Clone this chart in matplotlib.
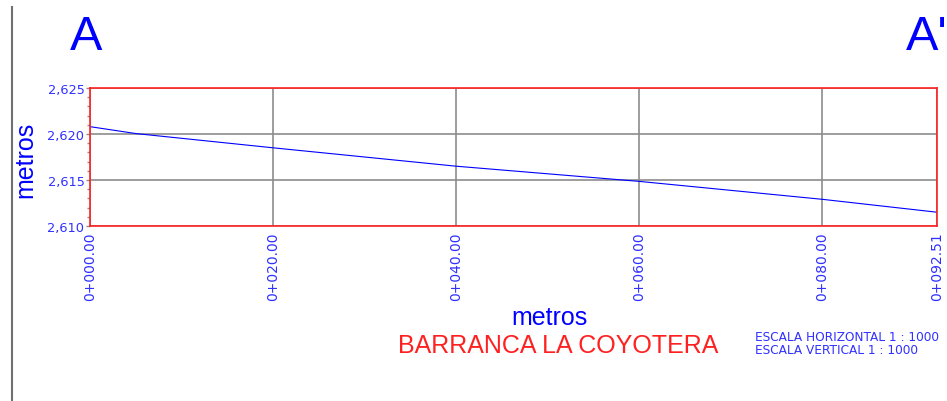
import numpy as np
import matplotlib.pyplot as plt
from matplotlib.lines import Line2D
from matplotlib.ticker import FuncFormatter, MultipleLocator

plt.rcParams['font.family'] = ['Liberation Sans', 'DejaVu Sans']

# profile values
distancia = [0.0, 5.0, 20.0, 40.0, 60.0, 80.0, 92.51]
elevacion = [2620.8, 2620.05, 2618.5, 2616.5, 2614.85, 2612.9, 2611.5]
xticks = [0.0, 20.0, 40.0, 60.0, 80.0, 92.51]
yticks = [2610, 2615, 2620, 2625]

azul = '#0000ff'
azul_claro = '#3030ff'
rojo = '#ff2020'
gris = '#8c8c8c'

def estacion(v, pos=None):
    km = int(v // 1000)
    return "%d+%06.2f" % (km, v - km * 1000)

fig = plt.figure(figsize=(9.47, 4.02), dpi=100)
ax = fig.add_axes([0.0950, 0.4353, 0.8944, 0.3433])

ax.plot(distancia, elevacion, color=azul, lw=0.8)
ax.set_xlim(0, 92.51)
ax.set_ylim(2610, 2625)

ax.set_xticks(xticks)
ax.xaxis.set_major_formatter(FuncFormatter(estacion))
ax.set_yticks(yticks)
ax.yaxis.set_minor_locator(MultipleLocator(1))
ax.yaxis.set_major_formatter(FuncFormatter(lambda v, p: "{:,.0f}".format(v)))

ax.grid(True, color=gris, lw=1.2)
for s in ax.spines.values():
    s.set_color(rojo)
    s.set_linewidth(1.2)

ax.tick_params(axis='x', length=0, pad=4, labelcolor=azul_claro,
               labelrotation=90)
ax.tick_params(axis='y', which='both', color=gris, length=3, width=1,
               pad=1, labelcolor=azul_claro)
ax.tick_params(axis='y', which='minor', length=2.5)
for lab in ax.get_xticklabels():
    lab.set_family('DejaVu Sans')
    lab.set_fontsize(10)
for lab in ax.get_yticklabels():
    lab.set_family('DejaVu Sans')
    lab.set_fontsize(9.3)

ax.set_ylabel("metros", color=azul, fontsize=18)
ax.yaxis.set_label_coords(-0.0626, 0.487)
ax.set_xlabel("metros", color=azul, fontsize=18)
ax.xaxis.set_label_coords(0.543, -0.572)

fig.text(86 / 947, 1 - 38 / 402, "A", color=azul, fontsize=35,
         ha='center', va='center')
fig.text(906 / 947, 1 - 38 / 402, "A'", color=azul, fontsize=35,
         ha='left', va='center')
fig.text(558 / 947, 1 - 346 / 402, "BARRANCA LA COYOTERA", color=rojo,
         fontsize=18, ha='center', va='center')
fig.text(755 / 947, 1 - 344 / 402,
         "ESCALA HORIZONTAL 1 : 1000\nESCALA VERTICAL 1 : 1000",
         color=azul_claro, fontsize=8.7, family='DejaVu Sans',
         ha='left', va='center', linespacing=1.05)

fig.add_artist(Line2D([12 / 947, 12 / 947], [0, 1 - 8 / 402],
                      transform=fig.transFigure, color='#707070', lw=1.5))

fig.savefig("out.png", dpi=100)
